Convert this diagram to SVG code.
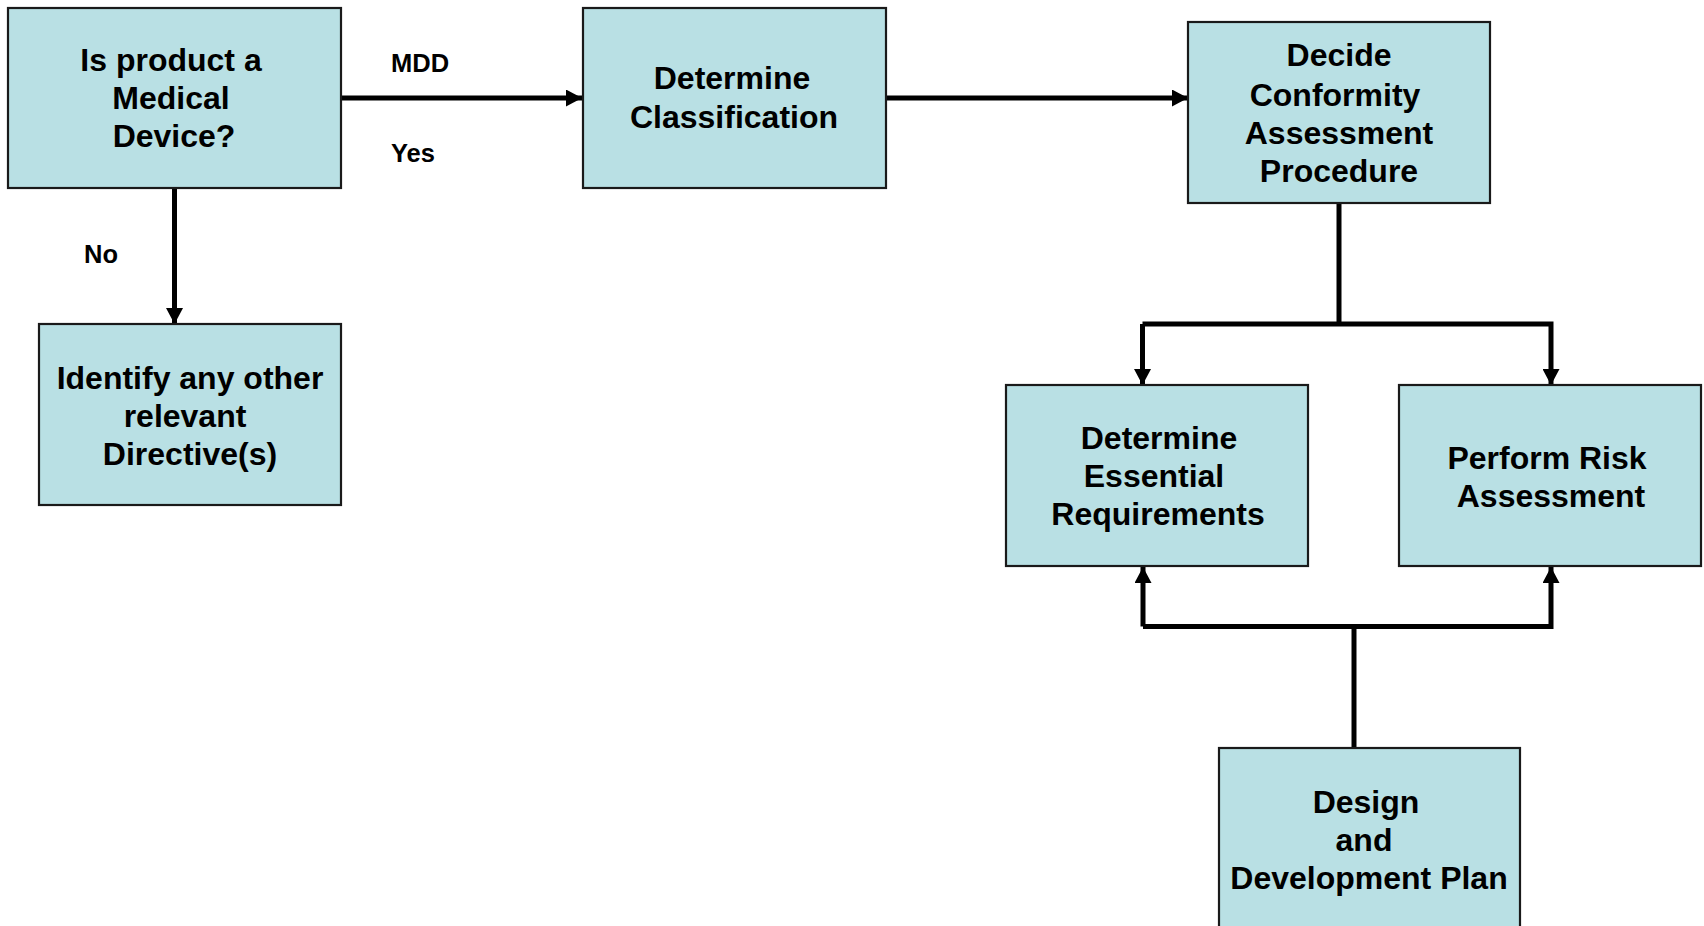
<svg xmlns="http://www.w3.org/2000/svg" width="1704" height="926" viewBox="0 0 1704 926">
<style>
.box{fill:#b9e0e4;stroke:#1a1a1a;stroke-width:2.2}
.t{font-family:"Liberation Sans",Arial,sans-serif;font-weight:bold;font-size:32px;fill:#000;text-anchor:middle}
.l{font-family:"Liberation Sans",Arial,sans-serif;font-weight:bold;font-size:25.5px;fill:#000}
.c{fill:none;stroke:#000;stroke-width:5}
</style>
<defs>
<marker id="ah" viewBox="0 0 10 10" refX="10" refY="5" markerWidth="3.2" markerHeight="3.4" preserveAspectRatio="none" orient="auto" markerUnits="strokeWidth">
<path d="M0,0 L10,5 L0,10 z" fill="#000"/>
</marker>
</defs>
<rect width="1704" height="926" fill="#fff"/>
<g id="connectors">
<path class="c" d="M341,98 H582" marker-end="url(#ah)"/>
<path class="c" d="M174.5,189 V324" marker-end="url(#ah)"/>
<path class="c" d="M887,98 H1188" marker-end="url(#ah)"/>
<path class="c" d="M1339,204 V324"/>
<path class="c" d="M1142.5,324 H1551 V385" marker-end="url(#ah)"/>
<path class="c" d="M1142.5,324 V385" marker-end="url(#ah)"/>
<path class="c" d="M1143,626.5 H1551 V567" marker-end="url(#ah)"/>
<path class="c" d="M1143,626.5 V567" marker-end="url(#ah)"/>
<path class="c" d="M1354,748 V626.5"/>
<text class="l" x="391" y="72">MDD</text>
<text class="l" x="391" y="162">Yes</text>
<text class="l" x="84" y="263">No</text>
</g>
<g id="n1">
<rect class="box" x="8" y="8" width="333" height="180"/>
<text class="t" x="171" y="71">Is product a</text>
<text class="t" x="171" y="109">Medical</text>
<text class="t" x="174" y="147">Device?</text>
</g>
<g id="n2">
<rect class="box" x="583" y="8" width="303" height="180"/>
<text class="t" x="732" y="89">Determine</text>
<text class="t" x="734" y="128">Classification</text>
</g>
<g id="n3">
<rect class="box" x="1188" y="22" width="302" height="181"/>
<text class="t" x="1339" y="66">Decide</text>
<text class="t" x="1335" y="106">Conformity</text>
<text class="t" x="1339" y="144">Assessment</text>
<text class="t" x="1339" y="182">Procedure</text>
</g>
<g id="n4">
<rect class="box" x="39" y="324" width="302" height="181"/>
<text class="t" x="190" y="389">Identify any other</text>
<text class="t" x="185" y="427">relevant</text>
<text class="t" x="190" y="465">Directive(s)</text>
</g>
<g id="n5">
<rect class="box" x="1006" y="385" width="302" height="181"/>
<text class="t" x="1159" y="449">Determine</text>
<text class="t" x="1154" y="487">Essential</text>
<text class="t" x="1158" y="525">Requirements</text>
</g>
<g id="n6">
<rect class="box" x="1399" y="385" width="302" height="181"/>
<text class="t" x="1547" y="469">Perform Risk</text>
<text class="t" x="1551" y="507">Assessment</text>
</g>
<g id="n7">
<rect class="box" x="1219" y="748" width="301" height="190"/>
<text class="t" x="1366" y="813">Design</text>
<text class="t" x="1364" y="851">and</text>
<text class="t" x="1369" y="889">Development Plan</text>
</g>
</svg>
